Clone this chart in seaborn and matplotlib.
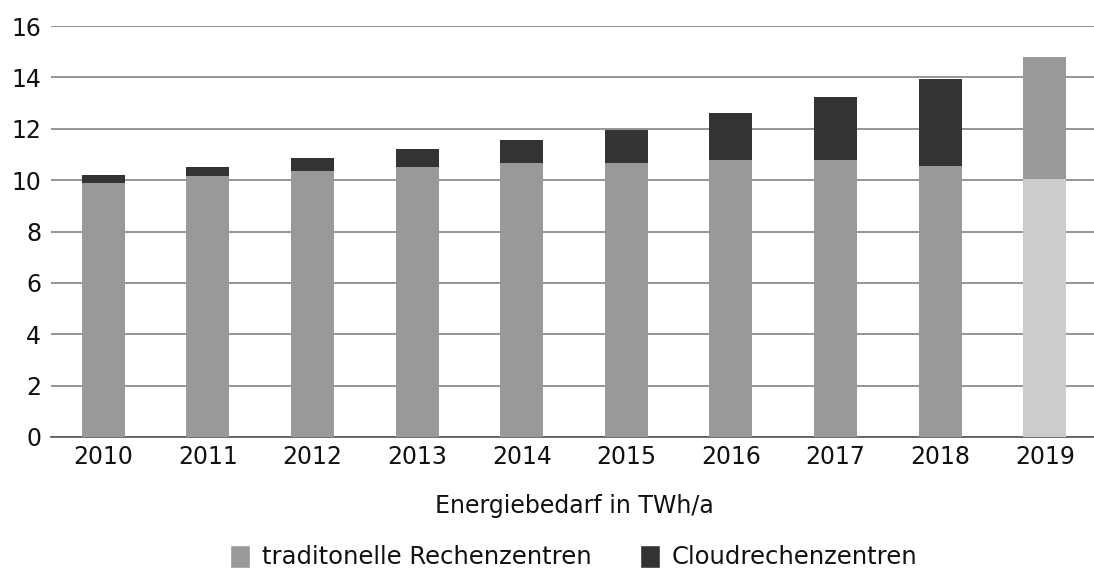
import numpy as np
import pandas as pd
import matplotlib.pyplot as plt
import seaborn as sns
from matplotlib.patches import Patch
from matplotlib.ticker import MultipleLocator

years = ["2010", "2011", "2012", "2013", "2014", "2015", "2016", "2017", "2018", "2019"]
traditionell = [9.9, 10.15, 10.35, 10.5, 10.65, 10.65, 10.8, 10.8, 10.55, 10.05]
cloud = [0.3, 0.35, 0.5, 0.7, 0.9, 1.3, 1.8, 2.45, 3.4, 4.75]

df = pd.DataFrame({"Jahr": years, "trad": traditionell, "cloud": cloud})

c_trad = "#999999"
c_cloud = "#333333"
c_light = "#cccccc"

sns.set_style("white")
plt.rcParams["font.family"] = ["DejaVu Sans"]

fig = plt.figure(figsize=(10.94, 5.74), dpi=100)
ax = fig.add_axes([51 / 1094, 137 / 574, 1046 / 1094, 411 / 574])

sns.barplot(data=df, x="Jahr", y="trad", color=c_trad, width=0.41,
            saturation=1, linewidth=0, ax=ax, zorder=3)
sns.barplot(data=df, x="Jahr", y="cloud", bottom=df["trad"], color=c_cloud,
            width=0.41, saturation=1, linewidth=0, ax=ax, zorder=3)

# 2019: lighter base, medium gray upper part
n = len(years)
ax.patches[n - 1].set_facecolor(c_light)
ax.patches[2 * n - 1].set_facecolor(c_trad)

ax.set_ylim(0, 16)
ax.set_xlim(-0.5, n - 0.5)
ax.yaxis.set_major_locator(MultipleLocator(2))
ax.grid(axis="y", color="#8c8c8c", linewidth=1.3, zorder=0)
ax.grid(axis="x", visible=False)

for s in ["top", "right", "left"]:
    ax.spines[s].set_visible(False)
ax.spines["bottom"].set_color("#555555")
ax.spines["bottom"].set_linewidth(1.2)

ax.tick_params(axis="y", length=0, labelsize=17, pad=7, labelcolor="#111111")
ax.tick_params(axis="x", which="major", length=0, labelsize=17, pad=6,
               labelcolor="#111111")
ax.set_xticks(np.arange(-0.5, n, 1), minor=True)
ax.tick_params(axis="x", which="minor", length=4, width=1.2, color="#555555",
               direction="out")

ax.set_xlabel("Energiebedarf in TWh/a", fontsize=17, labelpad=18, color="#111111")
ax.set_ylabel("")

handles = [Patch(facecolor=c_trad, label="traditonelle Rechenzentren"),
           Patch(facecolor=c_cloud, label="Cloudrechenzentren")]
fig.legend(handles=handles, loc="center", bbox_to_anchor=(574 / 1094, 1 - 557 / 574),
           ncol=2, frameon=False, fontsize=17.5, handlelength=0.8, handleheight=1.1,
           handletextpad=0.5, columnspacing=2.0, labelcolor="#111111")

fig.savefig("out.png", dpi=100)
